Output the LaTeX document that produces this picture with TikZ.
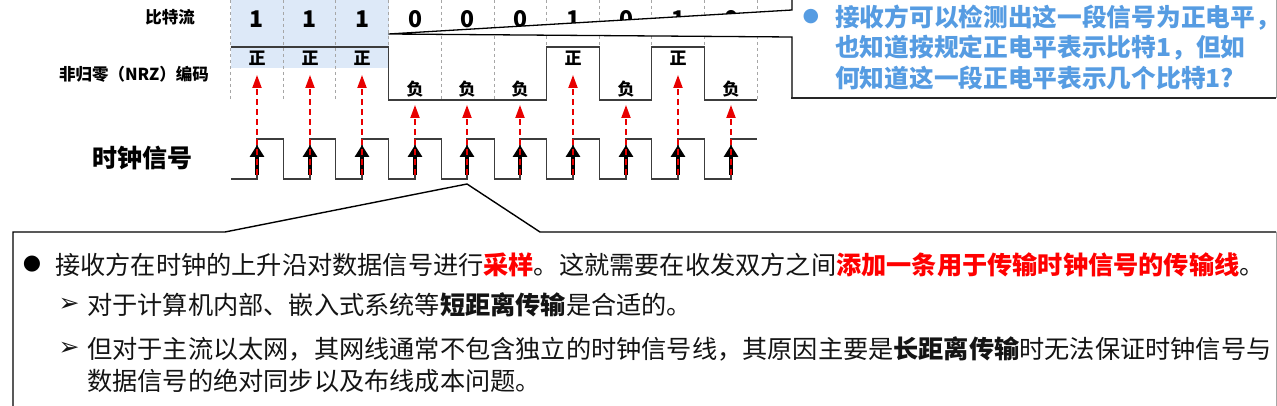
\documentclass[tikz,border=0pt]{standalone}
\usepackage{fontspec}
\setmainfont{Noto Sans CJK SC}
\newfontfamily\dejavu{DejaVu Sans}
\usetikzlibrary{arrows.meta}
\definecolor{bandblue}{RGB}{221,233,248}
\definecolor{callblue}{RGB}{86,156,226}
\definecolor{sigred}{RGB}{232,0,0}
\definecolor{linegray}{RGB}{60,60,60}
\definecolor{txt}{RGB}{20,20,20}
\tikzset{
  sig/.style={draw=linegray, line width=1.6pt, line join=miter},
  gridline/.style={draw=gray!70, line width=0.6pt, dash pattern=on 3pt off 3pt},
  bit/.style={font=\bfseries\fontsize{23}{23}\selectfont, inner sep=0pt},
  lvl/.style={font=\bfseries\fontsize{17}{17}\selectfont, inner sep=0pt},
  lbl/.style={font=\bfseries\fontsize{16.5}{16.5}\selectfont, inner sep=0pt},
  clkarrow/.style={draw=black, line width=4.6pt, -{Triangle[width=14pt,length=12pt]}},
  samplearrow/.style={draw=sigred, line width=2pt, dash pattern=on 6pt off 4pt, -{Triangle[width=9pt,length=13pt]}},
  qtext/.style={anchor=west, inner sep=0pt, text=callblue, font=\bfseries\fontsize{24.7}{24.7}\selectfont},
  bodytext/.style={anchor=west, inner sep=0pt, text=txt, font=\fontsize{25.2}{25.2}\selectfont},
  marker/.style={inner sep=0pt, text=txt, font=\dejavu\fontsize{25}{25}\selectfont},
}
\begin{document}
\begin{tikzpicture}[x=1pt,y=-1pt]
\useasboundingbox (0,0) rectangle (1277,406);
\fill[white] (0,0) rectangle (1277,406);

% light blue band behind the first three bits
\fill[bandblue] (230.5,0) rectangle (388.5,68);

% dashed bit boundaries
\foreach \bx in {230.5,283.5,335.5,388.5,441.5,494.5,546.5,599.5,651.5,704.5,757}{
  \draw[gridline] (\bx,0) -- (\bx,101);
}

% bits, levels and sample points
\foreach \lv/\cx [count=\i from 0] in {1/257,1/310,1/362,0/415,0/467,0/520,1/573,0/626,1/678,0/731}{
  \node[bit] (bit\i) at (\cx,19) {\lv};
  \ifnum\lv=1
    \node[lvl] (lv\i) at (\cx,58) {正};
    \coordinate (tgt\i) at (\cx,75);
  \else
    \node[lvl] (lv\i) at (\cx,89) {负};
    \coordinate (tgt\i) at (\cx,105);
  \fi
  \coordinate (clk\i) at (\cx,175);
  \coordinate (clkt\i) at (\cx,145);
}

% NRZ signal
\draw[sig] (230.5,47) -- (388.5,47) -- (388.5,100) -- (546.5,100) -- (546.5,47)
  -- (599.5,47) -- (599.5,100) -- (651.5,100) -- (651.5,47) -- (704.5,47)
  -- (704.5,100) -- (757,100);

% clock signal
\draw[sig] (231,179)
  -- (257,179) -- (257,139) -- (283.5,139) -- (283.5,179)
  -- (310,179) -- (310,139) -- (335.5,139) -- (335.5,179)
  -- (362,179) -- (362,139) -- (388.5,139) -- (388.5,179)
  -- (415,179) -- (415,139) -- (441.5,139) -- (441.5,179)
  -- (467,179) -- (467,139) -- (494.5,139) -- (494.5,179)
  -- (520,179) -- (520,139) -- (546.5,139) -- (546.5,179)
  -- (573,179) -- (573,139) -- (599.5,139) -- (599.5,179)
  -- (626,179) -- (626,139) -- (651.5,139) -- (651.5,179)
  -- (678,179) -- (678,139) -- (704.5,139) -- (704.5,179)
  -- (731,179) -- (731,139) -- (757,139);

% arrows
\foreach \i in {0,...,9}{
  \draw[clkarrow] (clk\i) -- (clkt\i);
}
\foreach \i in {0,...,9}{
  \draw[samplearrow] (clk\i) -- (tgt\i);
}

% row labels
\node[lbl] (lblbits) at (170,17) {比特流};
\node[lbl] (lblnrz) at (134,74) {非归零（NRZ）编码};
\node[inner sep=0pt, font=\bfseries\fontsize{25}{25}\selectfont] (lblclk) at (142,158) {时钟信号};

% top-right callout
\fill[white] (792,-3) -- (792,10) -- (388.5,34) -- (792,37) -- (792,98) -- (1276,98) -- (1276,-3) -- cycle;
\draw[black, line width=1.3pt] (792,-3) -- (792,10) -- (388.5,34) -- (792,37) -- (792,98);
\draw[black!85, line width=2.4pt] (791,98) -- (1276,98);
\draw[gray!70, line width=1pt] (1276,-3) -- (1276,98);
\node[inner sep=0pt, text=callblue, font=\dejavu\fontsize{19}{19}\selectfont] (qb) at (811,17) {●};
\node[qtext] (q1) at (835,18) {接收方可以检测出这一段信号为正电平，};
\node[qtext] (q2) at (835,48) {也知道按规定正电平表示比特1，但如};
\node[qtext] (q3) at (835,78) {何知道这一段正电平表示几个比特1?};

% bottom callout
\fill[white] (13,232) -- (225,232) -- (467,184) -- (540,232) -- (1276,232) -- (1276,410) -- (13,410) -- cycle;
\draw[black, line width=1.4pt] (13,410) -- (13,232) -- (225,232) -- (467,184) -- (540,232) -- (1276,232);
\draw[gray!70, line width=1pt] (1276,232) -- (1276,410);

\node[inner sep=0pt, text=black, font=\dejavu\fontsize{21}{21}\selectfont] (b0) at (32,264) {●};
\node[bodytext] (t1) at (55,265) {接收方在时钟的上升沿对数据信号进行\textcolor{red}{\bfseries 采样}。这就需要在收发双方之间\textcolor{red}{\bfseries 添加一条用于传输时钟信号的传输线}。};
\node[marker] (a2) at (69,305) {➢};
\node[bodytext] (t2) at (87,305) {对于计算机内部、嵌入式系统等\textbf{短距离传输}是合适的。};
\node[marker] (a3) at (69,349) {➢};
\node[bodytext] (t3) at (87,349) {但对于主流以太网，其网线通常不包含独立的时钟信号线，其原因主要是\textbf{长距离传输}时无法保证时钟信号与};
\node[bodytext] (t4) at (87,381) {数据信号的绝对同步以及布线成本问题。};
\end{tikzpicture}
\end{document}
